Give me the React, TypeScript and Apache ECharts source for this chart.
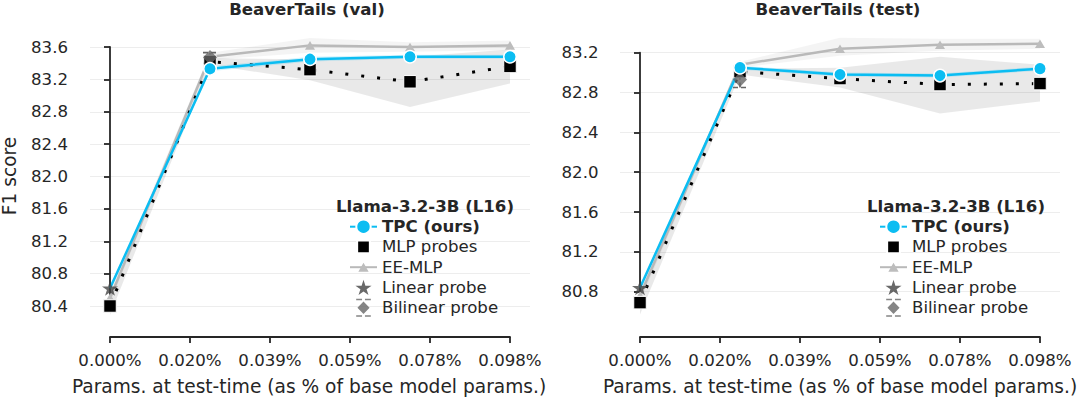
import React, { useEffect, useRef } from "react";
import * as echarts from "echarts";

const FONT = "DejaVu Sans";
const INK = "#262626";
const BLUE = "#0bbdf2";
const EE_GRAY = "#b9b9b9";
const STAR = "path://M50,0L61.2,34.5L97.6,34.5L68.2,55.9L79.4,90.5L50,69.1L20.6,90.5L31.8,55.9L2.4,34.5L38.8,34.5Z";
const STAR_ICON = STAR + "M50,-8L50.02,-8L50,-7.98Z M50,98.5L50.02,98.5L50,98.48Z";
const TRI = "path://M5,0L10,8.66L0,8.66Z M-2,-2.67L-1.98,-2.67L-2,-2.65Z M12,11.33L11.98,11.33L12,11.31Z";
const SQUARE_ICON = "path://M0,0L0.02,0L0,0.02Z M18,18L17.98,18L18,17.98Z M2.65,2.65H15.35V15.35H2.65Z";
const BILINEAR_ICON = "path://M0,0H5.2V1.3H0Z M7.8,0H13V1.3H7.8Z M6.5,2.4L11.9,8L6.5,13.6L1.1,8Z M0,14.7H5.2V16H0Z M7.8,14.7H13V16H7.8Z";

// x positions (% of base model params) and tick labels
const xPct = [0, 0.0245, 0.049, 0.0735, 0.098];
const xTickLabels = ["0.000%", "0.020%", "0.039%", "0.059%", "0.078%", "0.098%"];
const xTickStep = 0.0196;

const seriesNames = ["TPC (ours)", "MLP probes", "EE-MLP", "Linear probe", "Bilinear probe"];

// BeaverTails (val)
const valTpc = [80.62, 83.33, 83.45, 83.48, 83.48];
const valTpcLo = [80.6, 83.3, 83.42, 83.455, 83.455];
const valTpcHi = [80.64, 83.36, 83.48, 83.505, 83.505];
const valMlp = [80.4, 83.42, 83.32, 83.17, 83.36];
const valMlpLo = [80.29, 83.38, 83.19, 82.86, 83.15];
const valMlpHi = [80.51, 83.46, 83.45, 83.48, 83.57];
const valEe = [80.5, 83.48, 83.62, 83.6, 83.62];
const valEeLo = [80.44, 83.44, 83.53, 83.54, 83.56];
const valEeHi = [80.58, 83.53, 83.71, 83.66, 83.68];
const valLinear = [80.62];
const valBilinear = [83.47];
const valBilinearLo = [83.4];
const valBilinearHi = [83.53];

// BeaverTails (test)
const testTpc = [80.84, 83.05, 82.98, 82.97, 83.04];
const testTpcLo = [80.82, 83.03, 82.96, 82.95, 83.02];
const testTpcHi = [80.86, 83.07, 83.0, 82.99, 83.06];
const testMlp = [80.69, 83.01, 82.94, 82.88, 82.89];
const testMlpLo = [80.57, 82.98, 82.85, 82.59, 82.71];
const testMlpHi = [80.8, 83.04, 83.05, 83.16, 83.08];
const testEe = [80.76, 83.08, 83.24, 83.28, 83.29];
const testEeLo = [80.7, 83.05, 83.17, 83.22, 83.24];
const testEeHi = [80.82, 83.11, 83.35, 83.34, 83.34];
const testLinear = [80.84];
const testBilinear = [82.93];
const testBilinearLo = [82.85];
const testBilinearHi = [83.06];

const panels = [
  {
    title: "BeaverTails (val)",
    grid: { left: 110, top: 47, width: 400, height: 259 },
    bg: { left: 90, width: 440 },
    yMin: 80.4, yMax: 83.6, yOffset: 28, xOffset: 31,
    titleX: 307, legendLeft: 349, legendTitleX: 425, xLabelX: 309,
    tpc: valTpc, tpcLo: valTpcLo, tpcHi: valTpcHi,
    mlp: valMlp, mlpLo: valMlpLo, mlpHi: valMlpHi,
    ee: valEe, eeLo: valEeLo, eeHi: valEeHi,
    linear: valLinear, bilinear: valBilinear, bilLo: valBilinearLo, bilHi: valBilinearHi,
  },
  {
    title: "BeaverTails (test)",
    grid: { left: 640, top: 52.7, width: 400, height: 239 },
    bg: { left: 620, width: 440 },
    yMin: 80.8, yMax: 83.2, yOffset: 27.5, xOffset: 45.3,
    titleX: 838, legendLeft: 879, legendTitleX: 956, xLabelX: 840,
    tpc: testTpc, tpcLo: testTpcLo, tpcHi: testTpcHi,
    mlp: testMlp, mlpLo: testMlpLo, mlpHi: testMlpHi,
    ee: testEe, eeLo: testEeLo, eeHi: testEeHi,
    linear: testLinear, bilinear: testBilinear, bilLo: testBilinearLo, bilHi: testBilinearHi,
  },
];

function buildOption() {
  const grid: any[] = [];
  const xAxis: any[] = [];
  const yAxis: any[] = [];
  const series: any[] = [];
  const legend: any[] = [];
  const graphic: any[] = [];

  panels.forEach((p, pi) => {
    const mi = pi * 2;
    const bi = pi * 2 + 1;
    grid.push({ ...p.grid, outerBoundsMode: "none", containLabel: false });
    grid.push({ left: p.bg.left, width: p.bg.width, top: p.grid.top, height: p.grid.height, outerBoundsMode: "none", containLabel: false });
    const pad = (xTickStep * 20) / 80;
    xAxis.push({
      type: "value", gridIndex: mi, min: 0, max: xPct[xPct.length - 1], interval: xTickStep,
      position: "bottom", offset: p.xOffset,
      axisLine: { show: true, lineStyle: { color: INK, width: 1.8 } },
      axisTick: { show: true, length: 6, lineStyle: { color: INK, width: 1.8 } },
      axisLabel: { color: INK, fontSize: 16.6, fontFamily: FONT, margin: 15, showMinLabel: true, showMaxLabel: true,
        formatter: (v: number) => xTickLabels[Math.round(v / xTickStep)] ?? "" },
      splitLine: { show: false },
    });
    xAxis.push({ type: "value", gridIndex: bi, min: -pad, max: xPct[xPct.length - 1] + pad, show: false });
    yAxis.push({
      type: "value", gridIndex: mi, min: p.yMin, max: p.yMax, interval: 0.4,
      position: "left", offset: p.yOffset,
      axisLine: { show: true, lineStyle: { color: INK, width: 1.8 } },
      axisTick: { show: true, length: 6, lineStyle: { color: INK, width: 1.8 } },
      axisLabel: { color: INK, fontSize: 16.6, fontFamily: FONT, margin: 14, formatter: (v: number) => v.toFixed(1) },
      splitLine: { show: false },
    });
    yAxis.push({
      type: "value", gridIndex: bi, min: p.yMin, max: p.yMax, interval: 0.4,
      axisLine: { show: false }, axisTick: { show: false }, axisLabel: { show: false },
      splitLine: { show: true, lineStyle: { color: "#ededed", width: 1 } },
    });

    const pts = (ys: number[]) => xPct.map((x, i) => [x, ys[i]]);
    const common = { xAxisIndex: mi, yAxisIndex: mi, clip: false, silent: true, animation: false, emphasis: { disabled: true } };
    const band = (key: string, lo: number[], hi: number[], color: string) => {
      const rows = xPct.map((x, i) => [x, lo[i], hi[i]]);
      return {
        ...common, type: "custom", name: `${key}-${pi}`, data: rows, encode: { x: 0, y: [1, 2] }, z: 1,
        renderItem: (params: any, api: any) => {
          if (params.dataIndex !== 0) return null;
          const upper = rows.map((r) => api.coord([r[0], r[2]]));
          const lower = rows.map((r) => api.coord([r[0], r[1]])).reverse();
          return { type: "polygon", shape: { points: upper.concat(lower) }, style: { fill: color, stroke: null } };
        },
      };
    };
    series.push(band("mlpband", p.mlpLo, p.mlpHi, "rgba(0,0,0,0.085)"));
    series.push(band("eeband", p.eeLo, p.eeHi, "rgba(0,0,0,0.045)"));
    series.push(band("tpcband", p.tpcLo, p.tpcHi, "rgba(11,189,242,0.18)"));

    series.push({
      ...common, type: "line", name: "EE-MLP", data: pts(p.ee), symbol: TRI, symbolSize: 14,
      lineStyle: { color: EE_GRAY, width: 2.5 }, itemStyle: { color: "#bdbdbd" }, z: 2,
    });
    series.push({
      ...common, type: "line", name: "MLP probes", data: pts(p.mlp), symbol: "rect", symbolSize: 12.5,
      lineStyle: { color: "#000", width: 3, type: [3, 13] }, itemStyle: { color: "#000", borderColor: "#fff", borderWidth: 1 }, z: 2,
    });
    series.push({
      ...common, type: "custom", name: `bilinear-err-${pi}`,
      data: p.bilinear.map((_, i) => [xPct[1], p.bilLo[i], p.bilHi[i]]),
      encode: { x: 0, y: [1, 2] },
      renderItem: (params: any, api: any) => {
        const x = api.value(0);
        const lo = api.coord([x, api.value(1)]);
        const hi = api.coord([x, api.value(2)]);
        const hw = 7;
        const st = { stroke: "#666", lineWidth: 1.6, lineDash: [5, 3], fill: null };
        return {
          type: "group",
          children: [
            { type: "line", shape: { x1: lo[0], y1: lo[1], x2: hi[0], y2: hi[1] }, style: st },
            { type: "line", shape: { x1: lo[0] - hw, y1: lo[1], x2: lo[0] + hw, y2: lo[1] }, style: st },
            { type: "line", shape: { x1: hi[0] - hw, y1: hi[1], x2: hi[0] + hw, y2: hi[1] }, style: st },
          ],
        };
      },
      z: 2,
    });
    series.push({
      ...common, type: "scatter", name: "Bilinear probe", data: p.bilinear.map((v) => [xPct[1], v]),
      symbol: "diamond", symbolSize: [14, 15], itemStyle: { color: "#666" }, z: 2,
    });
    series.push({
      ...common, type: "line", name: "TPC (ours)",
      data: pts(p.tpc).map((v, i) => (i === 0 ? { value: v, symbol: "none" } : v)),
      symbol: "circle", symbolSize: 12.5,
      lineStyle: { color: BLUE, width: 2.5 }, itemStyle: { color: BLUE, borderColor: "#fff", borderWidth: 1.5 }, z: 2,
    });
    series.push({
      ...common, type: "scatter", name: "Linear probe", data: p.linear.map((v) => [xPct[0], v]),
      symbol: STAR, symbolSize: [16, 15], itemStyle: { color: "#444" }, z: 3,
    });

    legend.push({
      orient: "vertical", left: p.legendLeft, top: 216.7, padding: 0, backgroundColor: "transparent",
      itemWidth: 27, itemHeight: 18, itemGap: 0.25, selectedMode: false, z: 4,
      data: [
        { name: "TPC (ours)" },
        { name: "MLP probes", icon: SQUARE_ICON },
        { name: "EE-MLP" },
        { name: "Linear probe", icon: STAR_ICON },
        { name: "Bilinear probe", icon: BILINEAR_ICON },
      ],
      formatter: (name: string) => (name === seriesNames[0] ? `{b|${name}}` : name),
      textStyle: {
        color: INK, fontSize: 16.6, fontFamily: FONT, lineHeight: 20,
        rich: { b: { fontWeight: "bold", fontSize: 16.6, fontFamily: FONT, color: INK, lineHeight: 20 } },
      },
    });

    graphic.push({
      type: "text", x: p.titleX, y: 9, z: 100,
      style: { text: p.title, fontSize: 16.6, fontWeight: "bold", fontFamily: FONT, fill: INK, align: "center", verticalAlign: "middle" },
    });
    graphic.push({
      type: "text", x: p.legendTitleX, y: 206, z: 100,
      style: { text: "Llama-3.2-3B (L16)", fontSize: 16.6, fontWeight: "bold", fontFamily: FONT, fill: INK, align: "center", verticalAlign: "middle" },
    });
    graphic.push({
      type: "text", x: p.xLabelX, y: 386, z: 100,
      style: { text: "Params. at test-time (as % of base model params.)", fontSize: 18.6, fontFamily: FONT, fill: INK, align: "center", verticalAlign: "middle" },
    });
  });

  graphic.push({
    type: "text", x: 9.5, y: 176, rotation: Math.PI / 2, z: 100,
    style: { text: "F1 score", fontSize: 18.6, fontFamily: FONT, fill: INK, align: "center", verticalAlign: "middle" },
  });

  return {
    animation: false,
    backgroundColor: "#ffffff",
    textStyle: { fontFamily: FONT },
    grid, xAxis, yAxis, series, legend, graphic,
  };
}

export default function App() {
  const ref = useRef<HTMLDivElement>(null);
  useEffect(() => {
    if (!ref.current) return;
    const chart = echarts.init(ref.current, null, { renderer: "svg" });
    chart.setOption(buildOption() as any);
    return () => chart.dispose();
  }, []);
  return <div ref={ref} style={{ position: "absolute", left: 0, top: 0, width: 1080, height: 397 }} />;
}
